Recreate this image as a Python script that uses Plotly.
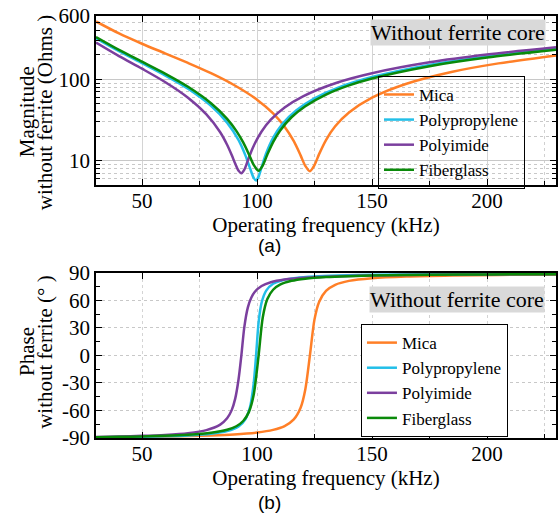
import plotly.graph_objects as go
from plotly.subplots import make_subplots

names = ["Mica", "Polypropylene", "Polyimide", "Fiberglass"]
colors = ["#FF7F27", "#22BFE8", "#7B3F9E", "#0A8A0A"]

freq_mica = [30, 40, 50, 60, 70, 80, 90, 100, 107, 112, 116, 119, 121, 123, 125, 127, 130, 134, 140, 150, 165, 185, 205, 230]
mag_mica = [515, 367, 274, 209, 159, 119, 85.1, 56.2, 38.1, 26.1, 17.3, 11.5, 8.6, 7.4, 8.8, 12.0, 17.9, 26.4, 39.0, 59.4, 88.2, 124, 157, 197]
phase_mica = [-89.35, -89.1, -88.79, -88.41, -87.91, -87.2, -86.09, -84.06, -81.17, -76.97, -69.68, -56.7, -37.05, 0, 39.4, 58.45, 70.46, 77.1, 81.4, 84.38, 86.23, 87.32, 87.89, 88.31]

freq_pp = [30, 40, 50, 60, 70, 80, 87, 92, 95, 97, 98.5, 99.6, 100.7, 102, 104, 107, 111, 117, 125, 135, 150, 175, 200, 230]
mag_pp = [320, 222, 158, 112, 76.6, 47.2, 29.3, 17.8, 11.5, 8.0, 6.17, 5.7, 6.34, 8.29, 12.3, 19.0, 28.1, 41.3, 58.2, 78.3, 106.5, 150.3, 191, 237]
phase_pp = [-89.32, -89.02, -88.62, -88.06, -87.15, -85.36, -82.48, -77.3, -69.25, -55.9, -31.8, 0, 36.2, 57.7, 70.8, 78.2, 82.1, 84.69, 86.25, 87.21, 87.96, 88.55, 88.86, 89.08]

freq_pi = [30, 40, 50, 60, 70, 78, 84, 87, 89, 90.5, 92, 93.2, 94.5, 96, 97.5, 99, 102, 106, 112, 120, 135, 150, 175, 200, 230]
mag_pi = [283, 193, 135, 92.7, 59.4, 37.0, 22.3, 15.65, 11.7, 9.2, 7.48, 7.0, 7.75, 9.99, 12.9, 16.1, 22.8, 31.8, 45.0, 61.8, 91.4, 119, 162, 202, 248]
phase_pi = [-88.89, -88.37, -87.67, -86.59, -84.67, -81.4, -75.43, -68.55, -59.6, -47.3, -25.6, 0, 31.2, 52.3, 63.1, 69.3, 75.8, 79.95, 82.94, 84.88, 86.55, 87.35, 88.05, 88.44, 88.73]

freq_fg = [30, 40, 50, 60, 70, 80, 87, 91, 94, 96.5, 98.5, 100.7, 102.5, 104.5, 107, 110, 115, 121, 130, 140, 150, 175, 200, 230]
mag_fg = [331, 230, 164.5, 117.4, 80.8, 50.8, 32.65, 23.2, 16.7, 11.9, 8.9, 7.5, 8.7, 11.9, 16.9, 23.3, 34.1, 46.7, 64.9, 84.1, 102.4, 145.1, 185.1, 230.5]
phase_fg = [-89.13, -88.75, -88.26, -87.56, -86.44, -84.32, -81.06, -77.17, -71.47, -61.5, -43.7, 0, 41.5, 61.6, 71.75, 77.24, 81.45, 83.81, 85.57, 86.58, 87.2, 88.03, 88.45, 88.76]

freqs = [freq_mica, freq_pp, freq_pi, freq_fg]
mags = [mag_mica, mag_pp, mag_pi, mag_fg]
phases = [phase_mica, phase_pp, phase_pi, phase_fg]

x_ticks = [50, 100, 150, 200]
mag_ticks = [10, 100, 600]
mag_minor = [6, 7, 8, 9, 20, 30, 40, 50, 60, 70, 80, 90, 200, 300, 400, 500]
phase_ticks = [-90, -60, -30, 0, 30, 60, 90]
phase_ticktext = ["-90", "-60", "-30", "0", "30", "60", "90"]

SERIF = "Liberation Serif, Times New Roman, DejaVu Serif, serif"
SANS = "Liberation Sans, Arial, DejaVu Sans, sans-serif"
BLACK = "black"

fig = make_subplots(rows=2, cols=1, vertical_spacing=0.0)

for i in range(4):
    fig.add_trace(go.Scatter(x=freqs[i], y=mags[i], mode="lines", name=names[i],
                             line=dict(color=colors[i], width=2.5, shape="spline", smoothing=0.8),
                             legend="legend"), row=1, col=1)
for i in range(4):
    fig.add_trace(go.Scatter(x=freqs[i], y=phases[i], mode="lines", name=names[i],
                             line=dict(color=colors[i], width=2.5, shape="spline", smoothing=0.8),
                             legend="legend2"), row=2, col=1)

axis_common = dict(showline=True, linecolor=BLACK, linewidth=1.5, mirror="ticks",
                   ticks="inside", ticklen=6, tickcolor=BLACK, automargin=False,
                   tickfont=dict(family=SERIF, size=21, color=BLACK),
                   ticklabeloverflow="allow", zeroline=False)

fig.update_xaxes(range=[30, 230], tickvals=x_ticks, gridcolor="#d4d4d4", gridwidth=1,
                 ticklabelstandoff=-4,
                 minor=dict(dtick=25, tick0=0, ticks="inside", ticklen=4, tickcolor=BLACK,
                            showgrid=True, gridcolor="#d0d0d0", griddash="dot"),
                 title=dict(text="Operating frequency (kHz)", font=dict(family=SERIF, size=21, color=BLACK), standoff=0),
                 **axis_common)
fig.update_yaxes(type="log", range=[0.699, 2.7790], tickvals=mag_ticks, ticktext=["10", "100", "600"],
                 gridcolor="#c8c8c8", gridwidth=1,
                 minor=dict(tickvals=mag_minor, ticks="inside", ticklen=4, tickcolor=BLACK,
                            showgrid=True, gridcolor="#c8c8c8", griddash="dot"),
                 domain=[0.5995, 1.0], row=1, col=1, **axis_common)
fig.update_yaxes(range=[-90, 90], tickvals=phase_ticks, ticktext=phase_ticktext,
                 gridcolor="#c8c8c8", gridwidth=1, griddash="dot",
                 minor=dict(dtick=15, tick0=0, ticks="inside", ticklen=4, tickcolor=BLACK, showgrid=False),
                 domain=[0.0, 0.391], row=2, col=1, **axis_common)
fig.update_xaxes(griddash="dot", row=2, col=1)

legend_common = dict(font=dict(family=SERIF, size=17, color=BLACK), bordercolor=BLACK, borderwidth=1,
                     xanchor="left", yanchor="top", itemwidth=30, tracegroupgap=0)
fig.update_layout(
    width=560, height=515,
    margin=dict(l=96, r=4, t=16, b=77),
    plot_bgcolor="white", paper_bgcolor="white",
    legend=dict(x=0.613, y=0.858, bgcolor="rgba(0,0,0,0)", **legend_common),
    legend2=dict(x=0.576, y=0.270, bgcolor="white", **legend_common),
)

# y-axis titles (two tightly spaced lines each)
ytitle_lines = [("Magnitude", -0.150, 0.772), ("without ferrite (Ohms )", -0.111, 0.772),
                ("Phase", -0.150, 0.204), ("without ferrite (° )", -0.111, 0.204)]
for txt, xx, yy in ytitle_lines:
    fig.add_annotation(text=txt, xref="paper", yref="paper", x=xx, y=yy, textangle=-90,
                       xanchor="center", yanchor="middle", showarrow=False,
                       font=dict(family=SERIF, size=21, color=BLACK))

fig.add_annotation(text="Without ferrite core", xref="paper", yref="paper", x=0.786, y=0.962,
                   xanchor="center", yanchor="middle",
                   showarrow=False, bgcolor="#d9d9d9", font=dict(family=SERIF, size=22, color=BLACK),
                   borderpad=0)
fig.add_annotation(text="Without ferrite core", xref="paper", yref="paper", x=0.784, y=0.329,
                   xanchor="center", yanchor="middle",
                   showarrow=False, bgcolor="#d9d9d9", font=dict(family=SERIF, size=22, color=BLACK),
                   borderpad=0)
fig.add_annotation(text="(a)", xref="paper", yref="paper", x=0.378, y=0.457, showarrow=False,
                   xanchor="center", yanchor="middle",
                   font=dict(family=SANS, size=19, color=BLACK))
fig.add_annotation(text="(b)", xref="paper", yref="paper", x=0.378, y=-0.152, showarrow=False,
                   xanchor="center", yanchor="middle",
                   font=dict(family=SANS, size=19, color=BLACK))

# remove the browser's default 8px page margin so the figure fills the window
fig.write_html("out.html", config={"displayModeBar": False},
               post_script="document.body.style.margin='0px';")
